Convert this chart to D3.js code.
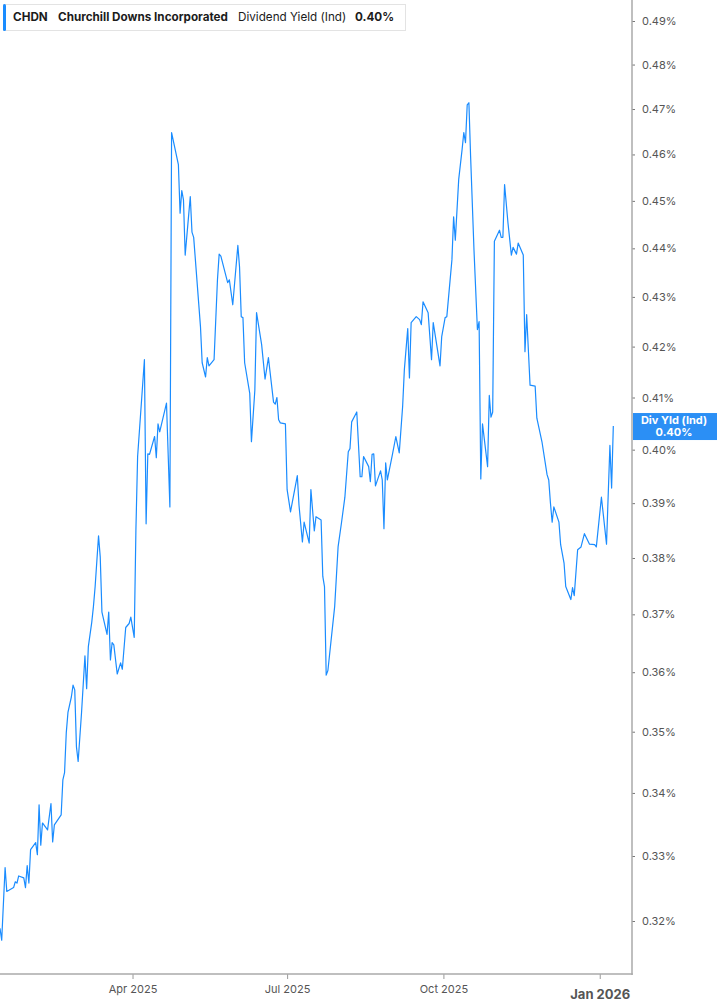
<!DOCTYPE html>
<html lang="en">

<head>
    <meta charset="UTF-8">
    <style>
        body { margin: 0; background: #fff; }
        text { font-family: Inter, Roboto, sans-serif; }
    </style>
</head>

<body>
    <script src="https://d3js.org/d3.v7.min.js"></script>
    <script>
        // dividend yield (%), trading days
        var dates = [
            '2025-01-13', '2025-01-14', '2025-01-16', '2025-01-17', '2025-01-21', '2025-01-22', '2025-01-23', '2025-01-24',
            '2025-01-27', '2025-01-28', '2025-01-29', '2025-01-30', '2025-01-31', '2025-02-03', '2025-02-04', '2025-02-05',
            '2025-02-06', '2025-02-07', '2025-02-10', '2025-02-12', '2025-02-13', '2025-02-14', '2025-02-18', '2025-02-19',
            '2025-02-20', '2025-02-21', '2025-02-22', '2025-02-24', '2025-02-25', '2025-02-26', '2025-02-27', '2025-02-28',
            '2025-03-02', '2025-03-04', '2025-03-05', '2025-03-06', '2025-03-08', '2025-03-09', '2025-03-10', '2025-03-12',
            '2025-03-13', '2025-03-14', '2025-03-17', '2025-03-18', '2025-03-19', '2025-03-20', '2025-03-21', '2025-03-23',
            '2025-03-25', '2025-03-26', '2025-03-28', '2025-03-30', '2025-03-31', '2025-04-02', '2025-04-03', '2025-04-04',
            '2025-04-08', '2025-04-09', '2025-04-10', '2025-04-11', '2025-04-14', '2025-04-15', '2025-04-16', '2025-04-17',
            '2025-04-21', '2025-04-23', '2025-04-24', '2025-04-28', '2025-04-29', '2025-04-30', '2025-05-01', '2025-05-02',
            '2025-05-05', '2025-05-06', '2025-05-07', '2025-05-11', '2025-05-12', '2025-05-14', '2025-05-15', '2025-05-16',
            '2025-05-19', '2025-05-21', '2025-05-22', '2025-05-23', '2025-05-27', '2025-05-28', '2025-05-30', '2025-06-02',
            '2025-06-03', '2025-06-04', '2025-06-05', '2025-06-06', '2025-06-09', '2025-06-10', '2025-06-12', '2025-06-13',
            '2025-06-16', '2025-06-18', '2025-06-20', '2025-06-23', '2025-06-24', '2025-06-25', '2025-06-26', '2025-06-27',
            '2025-06-30', '2025-07-01', '2025-07-03', '2025-07-07', '2025-07-08', '2025-07-10', '2025-07-11', '2025-07-14',
            '2025-07-15', '2025-07-17', '2025-07-18', '2025-07-21', '2025-07-22', '2025-07-23', '2025-07-24', '2025-07-25',
            '2025-07-29', '2025-07-31', '2025-08-02', '2025-08-04', '2025-08-06', '2025-08-07', '2025-08-08', '2025-08-11',
            '2025-08-13', '2025-08-14', '2025-08-15', '2025-08-18', '2025-08-19', '2025-08-20', '2025-08-21', '2025-08-22',
            '2025-08-25', '2025-08-26', '2025-08-27', '2025-08-28', '2025-08-29', '2025-09-01', '2025-09-03', '2025-09-05',
            '2025-09-07', '2025-09-08', '2025-09-10', '2025-09-11', '2025-09-12', '2025-09-15', '2025-09-17', '2025-09-18',
            '2025-09-19', '2025-09-22', '2025-09-24', '2025-09-25', '2025-09-29', '2025-09-30', '2025-10-02', '2025-10-03',
            '2025-10-06', '2025-10-07', '2025-10-08', '2025-10-10', '2025-10-12', '2025-10-13', '2025-10-14', '2025-10-15',
            '2025-10-16', '2025-10-17', '2025-10-19', '2025-10-21', '2025-10-22', '2025-10-23', '2025-10-24', '2025-10-27',
            '2025-10-28', '2025-10-29', '2025-10-30', '2025-10-31', '2025-11-03', '2025-11-04', '2025-11-05', '2025-11-06',
            '2025-11-08', '2025-11-10', '2025-11-11', '2025-11-13', '2025-11-14', '2025-11-17', '2025-11-18', '2025-11-19',
            '2025-11-21', '2025-11-24', '2025-11-25', '2025-11-28', '2025-12-01', '2025-12-02', '2025-12-03', '2025-12-04',
            '2025-12-05', '2025-12-08', '2025-12-09', '2025-12-11', '2025-12-12', '2025-12-15', '2025-12-16', '2025-12-17',
            '2025-12-19', '2025-12-21', '2025-12-23', '2025-12-26', '2025-12-29', '2025-12-30', '2026-01-02', '2026-01-05',
            '2026-01-07', '2026-01-08', '2026-01-09'
        ]
        var yields = [
            0.3189, 0.3171, 0.3282, 0.3245, 0.3251, 0.3260, 0.3258, 0.3269,
            0.3266, 0.3251, 0.3285, 0.3258, 0.3310, 0.3321, 0.3302, 0.3381,
            0.3317, 0.3352, 0.3341, 0.3383, 0.3322, 0.3349, 0.3365, 0.3421,
            0.3433, 0.3498, 0.3532, 0.3558, 0.3578, 0.3570, 0.3475, 0.3451,
            0.3532, 0.3628, 0.3572, 0.3644, 0.3686, 0.3714, 0.3749, 0.3840,
            0.3802, 0.3704, 0.3665, 0.3704, 0.3621, 0.3651, 0.3647, 0.3597,
            0.3616, 0.3605, 0.3677, 0.3684, 0.3695, 0.3660, 0.3851, 0.3987,
            0.4174, 0.3862, 0.3992, 0.3991, 0.4025, 0.3985, 0.4049, 0.4034,
            0.4089, 0.3893, 0.4648, 0.4578, 0.4474, 0.4522, 0.4502, 0.4386,
            0.4509, 0.4434, 0.4423, 0.4240, 0.4168, 0.4140, 0.4178, 0.4162,
            0.4174, 0.4335, 0.4388, 0.4384, 0.4329, 0.4335, 0.4284, 0.4406,
            0.4361, 0.4260, 0.4258, 0.4168, 0.4108, 0.4015, 0.4114, 0.4268,
            0.4204, 0.4136, 0.4178, 0.4091, 0.4087, 0.4100, 0.4057, 0.4051,
            0.4049, 0.3925, 0.3884, 0.3951, 0.3896, 0.3829, 0.3865, 0.3827,
            0.3925, 0.3849, 0.3875, 0.3869, 0.3767, 0.3749, 0.3595, 0.3603,
            0.3714, 0.3820, 0.3864, 0.3911, 0.3996, 0.4002, 0.4053, 0.4072,
            0.3949, 0.3949, 0.3987, 0.3968, 0.3940, 0.3991, 0.3992, 0.3932,
            0.3960, 0.3943, 0.3853, 0.3975, 0.3943, 0.3991, 0.4025, 0.3994,
            0.4083, 0.4154, 0.4236, 0.4138, 0.4248, 0.4260, 0.4254, 0.4244,
            0.4290, 0.4268, 0.4174, 0.4248, 0.4162, 0.4220, 0.4258, 0.4260,
            0.4376, 0.4466, 0.4417, 0.4546, 0.4611, 0.4648, 0.4626, 0.4709,
            0.4714, 0.4596, 0.4396, 0.4234, 0.4250, 0.3945, 0.4049, 0.3968,
            0.4104, 0.4062, 0.4072, 0.4415, 0.4438, 0.4423, 0.4423, 0.4535,
            0.4453, 0.4386, 0.4402, 0.4388, 0.4411, 0.4386, 0.4190, 0.4264,
            0.4124, 0.4122, 0.4060, 0.4015, 0.3953, 0.3943, 0.3900, 0.3865,
            0.3893, 0.3865, 0.3824, 0.3791, 0.3749, 0.3726, 0.3747, 0.3733,
            0.3815, 0.3820, 0.3844, 0.3825, 0.3824, 0.3820, 0.3911, 0.3825,
            0.4008, 0.3928, 0.4045
        ]
        var yTicks = [0.32, 0.33, 0.34, 0.35, 0.36, 0.37, 0.38, 0.39, 0.40, 0.41, 0.42, 0.43, 0.44, 0.45, 0.46, 0.47, 0.48, 0.49]
        var xTicks = ['2025-04-01', '2025-07-01', '2025-10-01', '2026-01-01']
        var xTickLabels = ['Apr 2025', 'Jul 2025', 'Oct 2025', 'Jan 2026']

        var svgWidth = 717, svgHeight = 1005
        var plotRight = 632, plotBottom = 974
        var blue = '#1a8cff'

        var parse = d3.timeParse('%Y-%m-%d')
        var data = dates.map((d, i) => ({ date: parse(d), value: yields[i] }))

        var svg = d3.select('body').append('svg')
            .attr('width', svgWidth)
            .attr('height', svgHeight)

        var xScale = d3.scaleTime()
            .domain([parse('2025-01-13'), parse('2026-01-20')])
            .range([0, plotRight])
        // log scale, the tick spacing in the picture widens downward
        var yScale = d3.scaleLog()
            .domain([0.32, 0.49])
            .range([921, 21])

        svg.append('defs').append('clipPath').attr('id', 'plot')
            .append('rect').attr('width', plotRight).attr('height', plotBottom)

        var line = d3.line()
            .x(d => xScale(d.date))
            .y(d => yScale(d.value))

        svg.append('path')
            .datum(data)
            .attr('clip-path', 'url(#plot)')
            .attr('fill', 'none')
            .attr('stroke', blue)
            .attr('stroke-width', 1.2)
            .attr('stroke-linejoin', 'round')
            .attr('d', line)

        // right axis
        var yAxis = svg.append('g')
            .attr('transform', 'translate(' + plotRight + ',0)')
            .call(d3.axisRight(yScale).tickValues(yTicks).tickSize(3).tickPadding(7)
                .tickFormat(d => d.toFixed(2) + '%'))
        yAxis.select('.domain').remove()
        yAxis.selectAll('line').attr('stroke', '#777')
        yAxis.selectAll('text').attr('fill', '#555').style('font-size', '11px')
        svg.append('line')
            .attr('x1', plotRight).attr('x2', plotRight)
            .attr('y1', 0).attr('y2', plotBottom + 1)
            .attr('stroke', '#aaa').attr('stroke-width', 1.5)

        // bottom axis
        var xAxis = svg.append('g')
            .attr('transform', 'translate(0,' + plotBottom + ')')
            .call(d3.axisBottom(xScale).tickValues(xTicks.map(parse)).tickSize(5).tickPadding(6)
                .tickFormat((d, i) => xTickLabels[i]))
        xAxis.select('.domain').remove()
        xAxis.selectAll('line').attr('stroke', '#999')
        xAxis.selectAll('text').attr('fill', '#555').style('font-size', '11px')
        xAxis.selectAll('text').filter((d, i) => i == 3)
            .style('font-size', '13px').style('font-weight', 'bold').attr('dy', '1.05em')
        svg.append('line')
            .attr('x1', 0).attr('x2', plotRight + 0.75)
            .attr('y1', plotBottom).attr('y2', plotBottom)
            .attr('stroke', '#aaa').attr('stroke-width', 1.5)

        // last value badge
        var last = data[data.length - 1]
        var by = yScale(last.value)
        svg.append('rect')
            .attr('x', plotRight + 1).attr('y', by - 13)
            .attr('width', svgWidth - plotRight - 1).attr('height', 27)
            .attr('fill', '#2b8ff5')
        svg.append('text')
            .attr('x', 674).attr('y', by - 2)
            .attr('text-anchor', 'middle').attr('fill', '#fff')
            .style('font-size', '11px').style('font-weight', 'bold')
            .text('Div Yld (Ind)')
        svg.append('text')
            .attr('x', 674).attr('y', by + 10)
            .attr('text-anchor', 'middle').attr('fill', '#fff')
            .style('font-size', '11px').style('font-weight', 'bold')
            .text(last.value.toFixed(2) + '%')

        // header
        var header = svg.append('g')
        header.append('rect')
            .attr('x', 3.5).attr('y', 4.5).attr('width', 402).attr('height', 26)
            .attr('fill', '#fff').attr('stroke', '#e3e3e3')
        header.append('rect')
            .attr('x', 3).attr('y', 4).attr('width', 3).attr('height', 27).attr('rx', 1.5)
            .attr('fill', blue)
        var parts = [
            { x: 13, t: 'CHDN', w: 'bold' },
            { x: 58, t: 'Churchill Downs Incorporated', w: 'bold' },
            { x: 238, t: 'Dividend Yield (Ind)', w: 'normal' },
            { x: 355, t: last.value.toFixed(2) + '%', w: 'bold' }
        ]
        header.selectAll('text.h').data(parts).enter().append('text')
            .attr('x', d => d.x).attr('y', 21)
            .attr('fill', '#1c1c1c')
            .style('font-size', '11.7px').style('font-weight', d => d.w)
            .text(d => d.t)
    </script>
</body>

</html>
